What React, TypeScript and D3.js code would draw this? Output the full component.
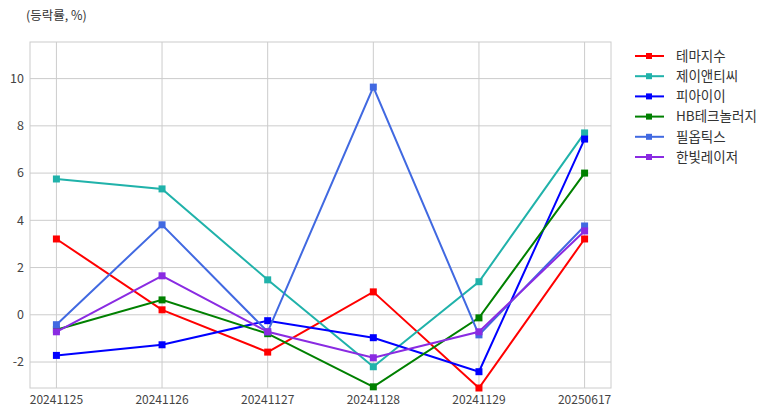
import React from "react";
import * as d3 from "d3";

const dates = ["20241125", "20241126", "20241127", "20241128", "20241129", "20250617"];
const seriesNames = ["테마지수", "제이앤티씨", "피아이이", "HB테크놀러지", "필옵틱스", "한빛레이저"];
const seriesColors = ["#ff0000", "#20b2aa", "#0000ff", "#008000", "#4169e1", "#8a2be2"];
const theme = [3.21, 0.21, -1.58, 0.97, -3.1, 3.21];
const jntc = [5.75, 5.33, 1.48, -2.2, 1.4, 7.7];
const pie = [-1.72, -1.27, -0.25, -0.97, -2.41, 7.44];
const hb = [-0.63, 0.63, -0.8, -3.05, -0.13, 6.0];
const philoptics = [-0.42, 3.81, -0.72, 9.64, -0.85, 3.76];
const hanbit = [-0.72, 1.65, -0.72, -1.82, -0.72, 3.55];
const seriesValues = [theme, jntc, pie, hb, philoptics, hanbit];
const yTicks = [-2, 0, 2, 4, 6, 8, 10];
const yTitle = "(등락률, %)";

const W = 777;
const H = 416;
const left = 30;
const right = 611;
const top = 42;
const bottom = 388;

export default function App() {
  const x = d3
    .scalePoint<string>()
    .domain(dates)
    .range([left, right])
    .padding(0.25);
  const y = d3.scaleLinear().domain([-3.1, 11.55]).range([bottom, top]);
  const line = d3
    .line<number>()
    .x((_, i) => x(dates[i]) as number)
    .y((d) => y(d));
  const font = "'Noto Sans CJK KR', 'Noto Sans', sans-serif";
  return (
    <svg
      width={W}
      height={H}
      style={{ position: "absolute", left: 0, top: 0, fontFamily: font }}
    >
      <rect x={0} y={0} width={W} height={H} fill="#fff" />
      <text x={26} y={20} fontSize={12.5} fill="#333">
        {yTitle}
      </text>
      {yTicks.map((t) => (
        <g key={"y" + t}>
          <line x1={left} x2={right} y1={y(t)} y2={y(t)} stroke="#cccccc" strokeWidth={1} />
          <text x={24} y={y(t)} dy="0.35em" textAnchor="end" fontSize={12.5} fill="#444">
            {t}
          </text>
        </g>
      ))}
      {dates.map((d) => (
        <g key={"x" + d}>
          <line x1={x(d)} x2={x(d)} y1={top} y2={bottom} stroke="#cccccc" strokeWidth={1} />
          <text x={x(d)} y={404} textAnchor="middle" fontSize={12} fill="#444">
            {d}
          </text>
        </g>
      ))}
      <rect
        x={left}
        y={top}
        width={right - left}
        height={bottom - top}
        fill="none"
        stroke="#cccccc"
        strokeWidth={1}
      />
      {seriesValues.map((vals, si) => (
        <g key={"s" + si}>
          <path d={line(vals) || ""} fill="none" stroke={seriesColors[si]} strokeWidth={2} />
          {vals.map((v, i) => (
            <rect
              key={i}
              x={(x(dates[i]) as number) - 3.5}
              y={y(v) - 3.5}
              width={7}
              height={7}
              fill={seriesColors[si]}
            />
          ))}
        </g>
      ))}
      {seriesNames.map((n, i) => {
        const ly = 56 + i * 20.2;
        return (
          <g key={"l" + i}>
            <line x1={635} x2={664} y1={ly} y2={ly} stroke={seriesColors[i]} strokeWidth={2} />
            <rect x={646} y={ly - 3} width={6} height={6} fill={seriesColors[i]} />
            <text x={676} y={ly} dy="0.35em" fontSize={13.5} fill="#333">
              {n}
            </text>
          </g>
        );
      })}
    </svg>
  );
}
